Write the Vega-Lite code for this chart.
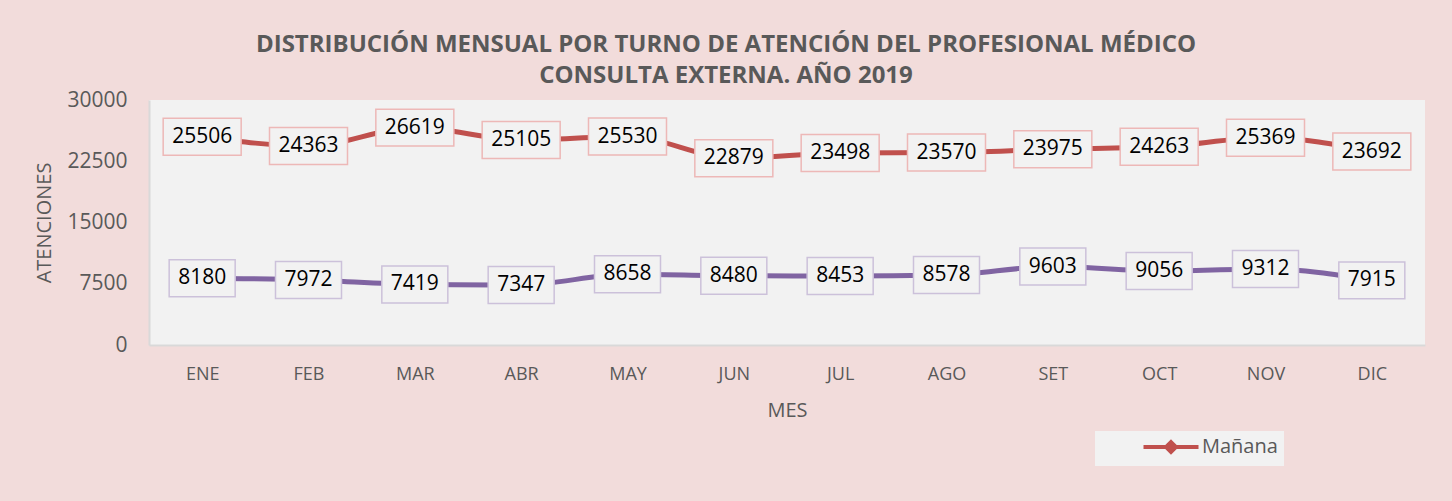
{
  "$schema": "https://vega.github.io/schema/vega-lite/v6.json",
  "width": 1276,
  "height": 245,
  "autosize": {"type": "none"},
  "padding": {"left": 149, "top": 100, "right": 27, "bottom": 156},
  "background": "#F2DCDB",
  "title": {
    "text": ["DISTRIBUCIÓN MENSUAL POR TURNO DE ATENCIÓN DEL PROFESIONAL MÉDICO", "CONSULTA EXTERNA. AÑO 2019"],
    "font": "Open Sans",
    "fontSize": 24,
    "fontWeight": "bold",
    "color": "#595959",
    "anchor": "middle",
    "dx": -61,
    "offset": 1,
    "lineHeight": 31
  },
  "config": {
    "view": {"fill": "#F2F2F2", "stroke": null},
    "font": "Open Sans"
  },
  "data": {
    "values": [
      {"mes": "ENE", "serie": "Mañana", "valor": 25506},
      {"mes": "FEB", "serie": "Mañana", "valor": 24363},
      {"mes": "MAR", "serie": "Mañana", "valor": 26619},
      {"mes": "ABR", "serie": "Mañana", "valor": 25105},
      {"mes": "MAY", "serie": "Mañana", "valor": 25530},
      {"mes": "JUN", "serie": "Mañana", "valor": 22879},
      {"mes": "JUL", "serie": "Mañana", "valor": 23498},
      {"mes": "AGO", "serie": "Mañana", "valor": 23570},
      {"mes": "SET", "serie": "Mañana", "valor": 23975},
      {"mes": "OCT", "serie": "Mañana", "valor": 24263},
      {"mes": "NOV", "serie": "Mañana", "valor": 25369},
      {"mes": "DIC", "serie": "Mañana", "valor": 23692},
      {"mes": "ENE", "serie": "Tarde", "valor": 8180},
      {"mes": "FEB", "serie": "Tarde", "valor": 7972},
      {"mes": "MAR", "serie": "Tarde", "valor": 7419},
      {"mes": "ABR", "serie": "Tarde", "valor": 7347},
      {"mes": "MAY", "serie": "Tarde", "valor": 8658},
      {"mes": "JUN", "serie": "Tarde", "valor": 8480},
      {"mes": "JUL", "serie": "Tarde", "valor": 8453},
      {"mes": "AGO", "serie": "Tarde", "valor": 8578},
      {"mes": "SET", "serie": "Tarde", "valor": 9603},
      {"mes": "OCT", "serie": "Tarde", "valor": 9056},
      {"mes": "NOV", "serie": "Tarde", "valor": 9312},
      {"mes": "DIC", "serie": "Tarde", "valor": 7915}
    ]
  },
  "encoding": {
    "x": {
      "field": "mes",
      "type": "ordinal",
      "sort": ["ENE", "FEB", "MAR", "ABR", "MAY", "JUN", "JUL", "AGO", "SET", "OCT", "NOV", "DIC"],
      "scale": {"type": "point", "padding": 0.5},
      "axis": {
        "title": "MES",
        "labelAngle": 0,
        "labelFontSize": 18,
        "labelColor": "#595959",
        "ticks": false,
        "domainColor": "#D9D9D9",
        "domainWidth": 2,
        "labelPadding": 20,
        "titleFontSize": 20,
        "titleFontWeight": "normal",
        "titleColor": "#595959",
        "titlePadding": 17
      }
    },
    "y": {
      "field": "valor",
      "type": "quantitative",
      "scale": {"domain": [0, 30000], "nice": false},
      "axis": {
        "title": "ATENCIONES",
        "values": [0, 7500, 15000, 22500, 30000],
        "format": "d",
        "grid": false,
        "ticks": false,
        "labelFontSize": 21,
        "labelColor": "#595959",
        "labelPadding": 22,
        "domainColor": "#D9D9D9",
        "domainWidth": 2,
        "titleFontSize": 20,
        "titleFontWeight": "normal",
        "titleColor": "#595959",
        "titlePadding": 12
      }
    }
  },
  "layer": [
    {
      "mark": {"type": "line", "strokeWidth": 5, "interpolate": "monotone"},
      "encoding": {
        "color": {
          "field": "serie",
          "type": "nominal",
          "scale": {"domain": ["Mañana", "Tarde"], "range": ["#C0504D", "#8064A2"]},
          "legend": {
            "values": ["Mañana"],
            "title": null,
            "orient": "none",
            "legendX": 946,
            "legendY": 331,
            "fillColor": "#F2F2F2",
            "padding": 6,
            "symbolType": "M-3.93,0H3.93M0,-0.7L0.7,0L0,0.7L-0.7,0ZM0,-0.3L0.3,0L0,0.3L-0.3,0Z",
            "symbolSize": 196,
            "symbolStrokeWidth": 4,
            "symbolOffset": 60,
            "labelOffset": 21,
            "labelFontSize": 20,
            "labelColor": "#595959"
          }
        }
      }
    },
    {
      "transform": [{"filter": "datum.serie === 'Mañana'"}],
      "mark": {"type": "point", "filled": true, "fill": "#F2F2F2", "stroke": "#EDB8B7", "strokeWidth": 1.5, "opacity": 1, "shape": "M-1,-0.474H1V0.474H-1Z", "size": 6084}
    },
    {
      "transform": [{"filter": "datum.serie === 'Tarde'"}],
      "mark": {"type": "point", "filled": true, "fill": "#F2F2F2", "stroke": "#CCC1DA", "strokeWidth": 1.5, "opacity": 1, "shape": "M-1,-0.56H1V0.56H-1Z", "size": 4356}
    },
    {
      "mark": {"type": "text", "fontSize": 21, "color": "#000000", "baseline": "middle"},
      "encoding": {
        "text": {"field": "valor", "type": "quantitative", "format": "d"}
      }
    }
  ]
}
